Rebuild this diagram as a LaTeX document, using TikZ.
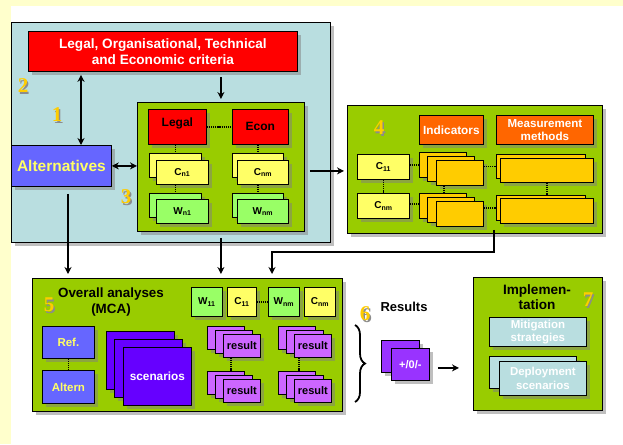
\documentclass[tikz,border=0pt]{standalone}
\usepackage{fontspec}
\setmainfont{Liberation Sans}
\newfontfamily\numfont{Liberation Serif}
\usetikzlibrary{shadows,arrows.meta,decorations.pathreplacing,calc}

\definecolor{pageyellow}{HTML}{FFFFCC}
\definecolor{paleblue}{HTML}{B9DEE0}
\definecolor{critred}{HTML}{FF0000}
\definecolor{panelgreen}{HTML}{99CC00}
\definecolor{altblue}{HTML}{6666FF}
\definecolor{cyellow}{HTML}{FFFF66}
\definecolor{wgreen}{HTML}{99FF66}
\definecolor{indorange}{HTML}{FF6600}
\definecolor{indgold}{HTML}{FFCC00}
\definecolor{scenviolet}{HTML}{6600FF}
\definecolor{reslilac}{HTML}{CC66FF}
\definecolor{pmpurple}{HTML}{9933FF}
\definecolor{numgold}{HTML}{FFCC00}

\tikzset{
  box/.style={draw=black, line width=0.8pt, inner sep=0pt, anchor=north west,
    align=center, font=\bfseries,
    drop shadow={shadow xshift=3.5pt, shadow yshift=-3.5pt, opacity=0.5}},
  panel/.style={box, fill=panelgreen},
  arr/.style={line width=1.8pt, -{Stealth[length=7pt,width=7pt]}},
  dblarr/.style={line width=1.8pt, {Stealth[length=7pt,width=7pt]}-{Stealth[length=7pt,width=7pt]}},
  dots/.style={line width=1.4pt, dash pattern=on 1.2pt off 0.9pt},
  numtxt/.style={font=\numfont\bfseries\fontsize{21}{21}\selectfont, inner sep=0pt},
  num/.style={numtxt, text=numgold},
  numshadow/.style={numtxt, text=black!45},
  cbox/.style={box, fill=cyellow, font=\bfseries\fontsize{10}{11}\selectfont},
  wbox/.style={box, fill=wgreen, font=\bfseries\fontsize{10}{11}\selectfont},
}
\newcommand{\sbs}[1]{\textsubscript{\fontsize{7}{7}\selectfont #1}}
% gold step number with a grey shadow copy behind it
\newcommand{\stepnum}[3]{%
  \node[numshadow] (#1s) at (#2+1.5,#3+1.5) {#1};%
  \node[num] (n#1) at (#2,#3) {#1};}

\begin{document}
\begin{tikzpicture}[x=1pt, y=-1pt]
% page background
\fill[pageyellow] (0,0) rectangle (623,444);
\fill[white] (11,6) rectangle (623,444);
\useasboundingbox (0,0) rectangle (623,444);

% ---- block 1-3: criteria and alternatives ----
\node[box, fill=paleblue, minimum width=319pt, minimum height=220pt] (outer) at (11,22) {};
\node[box, fill=critred, text=white, minimum width=269pt, minimum height=40pt,
  font=\bfseries\fontsize{13.6}{15.5}\selectfont] (crit) at (28,31)
  {Legal, Organisational, Technical\\and Economic criteria};
\node[box, fill=altblue, text=cyellow, minimum width=100pt, minimum height=41pt,
  font=\bfseries\fontsize{15.5}{17}\selectfont] (alt) at (11,145) {Alternatives};
\stepnum{2}{23}{86}
\stepnum{1}{57}{115}

\node[panel, minimum width=167pt, minimum height=129pt] (box3) at (137,102) {};
\node[box, fill=critred, minimum width=58pt, minimum height=35pt, text depth=9pt,
  font=\bfseries\fontsize{12}{14}\selectfont] (legal) at (148,109) {Legal};
\node[box, fill=critred, minimum width=56pt, minimum height=35pt,
  font=\bfseries\fontsize{12}{14}\selectfont] (econ) at (232,109) {Econ};
\node[cbox, minimum width=52pt, minimum height=24pt] (cn1a) at (149,153) {};
\node[cbox, minimum width=52pt, minimum height=24pt] (cn1b) at (156,160) {C\sbs{n1}};
\node[cbox, minimum width=51pt, minimum height=24pt] (cnma) at (232,153) {};
\node[cbox, minimum width=51pt, minimum height=24pt] (cnmb) at (237,160) {C\sbs{nm}};
\node[wbox, minimum width=52pt, minimum height=24pt] (wn1a) at (149,193) {};
\node[wbox, minimum width=52pt, minimum height=24pt] (wn1b) at (156,199) {W\sbs{n1}};
\node[wbox, minimum width=51pt, minimum height=24pt] (wnma) at (232,193) {};
\node[wbox, minimum width=51pt, minimum height=24pt] (wnmb) at (237,199) {W\sbs{nm}};
\stepnum{3}{126}{197}

\draw[dots] (legal.east |- econ.west) -- (econ.west);
\draw[dots] (legal.south -| cn1a.north) -- (cn1a.north);
\draw[dots] (cn1b.south -| wn1a.north) -- (wn1a.north);
\draw[dots] (econ.south -| cnma.north) -- (cnma.north);
\draw[dots] (cnmb.south -| wnma.north) -- (wnma.north);

\draw[dblarr] ([xshift=53pt,yshift=-3pt]crit.south west) -- ([xshift=70pt]alt.north west);
\draw[arr] ([yshift=-5pt]crit.south -| box3.north) -- ([yshift=3pt]box3.north);
\draw[dblarr] (alt.east) -- (alt.east -| box3.west);

% ---- block 4: indicators and measurement methods ----
\node[panel, minimum width=255pt, minimum height=128pt] (box4) at (347,105) {};
\stepnum{4}{379}{128}
\node[box, fill=indorange, text=white, minimum width=64pt, minimum height=29pt,
  font=\bfseries\fontsize{11.8}{13.5}\selectfont] (indic) at (419,115) {Indicators};
\node[box, fill=indorange, text=white, minimum width=97pt, minimum height=29pt,
  font=\bfseries\fontsize{11.6}{13}\selectfont] (meas) at (496,115) {Measurement\\methods};
\node[cbox, minimum width=52pt, minimum height=25pt] (c4a) at (357,154) {C\sbs{11}};
\node[cbox, minimum width=52pt, minimum height=25pt] (c4b) at (357,193) {C\sbs{nm}};
\node[box, fill=indgold, minimum width=47pt, minimum height=25pt] (ia1) at (419,152) {};
\node[box, fill=indgold, minimum width=47pt, minimum height=25pt] (ia2) at (427,156) {};
\node[box, fill=indgold, minimum width=47pt, minimum height=25pt] (ia3) at (436,160) {};
\node[box, fill=indgold, minimum width=47pt, minimum height=25pt] (ib1) at (419,193) {};
\node[box, fill=indgold, minimum width=47pt, minimum height=25pt] (ib2) at (427,197) {};
\node[box, fill=indgold, minimum width=47pt, minimum height=25pt] (ib3) at (436,201) {};
\node[box, fill=indgold, minimum width=89pt, minimum height=24pt] (ma1) at (496,154) {};
\node[box, fill=indgold, minimum width=93pt, minimum height=24pt] (ma2) at (500,158) {};
\node[box, fill=indgold, minimum width=89pt, minimum height=25pt] (mb1) at (496,195) {};
\node[box, fill=indgold, minimum width=93pt, minimum height=25pt] (mb2) at (500,198) {};

\draw[dots] ([yshift=2pt]c4a.east) -- ([yshift=2pt]c4a.east -| ia1.west);
\draw[dots] ([yshift=2pt]c4b.east) -- ([yshift=2pt]c4b.east -| ib1.west);
\draw[dots] (ia3.east |- ma1.west) -- (ma1.west);
\draw[dots] (ib3.east |- mb1.west) -- (mb1.west);
\draw[dots] (c4a.south) -- (c4b.north);
\draw[dots] ([xshift=8pt]ia3.south west) -- ([xshift=25pt]ib1.north west);
\draw[dots] (ma2.south) -- (ma2.south |- mb1.north);

\draw[arr] ($(box3.east |- box4.west)+(5,1.5)$) -- ($(box4.west)+(-3,1.5)$);

% ---- block 5: overall analyses ----
\node[panel, minimum width=310pt, minimum height=133pt] (box5) at (32,278) {};
\stepnum{5}{49}{305}
\node[font=\bfseries\fontsize{13.4}{16}\selectfont, align=center, inner sep=0pt] (mca) at (111,302)
  {Overall analyses\\(MCA)};
\node[wbox, minimum width=31pt, minimum height=29pt] (w11) at (191,287) {W\sbs{11}};
\node[cbox, minimum width=29pt, minimum height=29pt] (c11) at (227,287) {C\sbs{11}};
\node[wbox, minimum width=31pt, minimum height=29pt] (wnm) at (268,287) {W\sbs{nm}};
\node[cbox, minimum width=31pt, minimum height=29pt] (cnm) at (304,287) {C\sbs{nm}};
\draw[dots] (c11.east) -- (wnm.west);

\node[box, fill=altblue, text=cyellow, minimum width=52pt, minimum height=32pt,
  font=\bfseries\fontsize{11.5}{13}\selectfont] (ref) at (42,326) {Ref.};
\node[box, fill=altblue, text=cyellow, minimum width=52pt, minimum height=33pt,
  font=\bfseries\fontsize{11.5}{13}\selectfont] (altern) at (42,370) {Altern};
\draw[dots] (ref.south) -- (altern.north);

\node[box, fill=scenviolet, minimum width=68pt, minimum height=58pt] (sc1) at (106,331) {};
\node[box, fill=scenviolet, minimum width=68pt, minimum height=58pt] (sc2) at (114,339) {};
\node[box, fill=scenviolet, text=white, minimum width=68pt, minimum height=58pt,
  font=\bfseries\fontsize{11.8}{13}\selectfont] (sc3) at (123,347) {scenarios};

\foreach \gx/\g in {207/p, 278/q}{
  \foreach \gy/\r in {326/1, 371/2}{
    \node[box, fill=reslilac, minimum width=37pt, minimum height=23pt] (\g\r a) at (\gx,\gy) {};
    \node[box, fill=reslilac, minimum width=37pt, minimum height=23pt] (\g\r b) at (\gx+8,\gy+4) {};
    \node[box, fill=reslilac, minimum width=37pt, minimum height=23pt,
      font=\bfseries\fontsize{11}{12}\selectfont] (\g\r c) at (\gx+16,\gy+8) {result};
  }
}
\draw[dots] ([xshift=8pt]p1c.south west) -- ([xshift=24pt]p2a.north west);
\draw[dots] ([xshift=5pt]q1c.south west) -- ([xshift=21pt]q2a.north west);

\coordinate (elbow) at (272,252);
\draw[arr] ([xshift=57pt,yshift=-7pt]alt.south west) -- ([xshift=57pt,yshift=4pt]alt.south west |- box5.north);
\draw[arr] ([yshift=-6pt]box3.south) -- ([yshift=4pt]box3.south |- box5.north);
\draw[arr] ([xshift=147pt,yshift=4pt]box4.south west) |- (elbow) -- ([yshift=4pt]elbow |- box5.north);

% ---- block 6: results ----
\draw[line width=1.8pt, decorate, decoration={brace, amplitude=10pt}] (355,325) -- (355,402);
\stepnum{6}{365}{314}
\node[font=\bfseries\fontsize{13}{15}\selectfont, inner sep=0pt] (restitle) at (404,307) {Results};
\node[box, fill=pmpurple, minimum width=38pt, minimum height=32pt] (pm1) at (381,340) {};
\node[box, fill=pmpurple, text=white, minimum width=38pt, minimum height=32pt,
  font=\bfseries\fontsize{11}{12}\selectfont] (pm2) at (391,348) {+/0/-};

% ---- block 7: implementation ----
\node[panel, minimum width=129pt, minimum height=133pt] (box7) at (473,277) {};
\node[font=\bfseries\fontsize{13.6}{15.5}\selectfont, align=center, inner sep=0pt] (impl) at (537,297)
  {Implemen-\\tation};
\stepnum{7}{588}{300}
\node[box, fill=paleblue, text=white, minimum width=97pt, minimum height=29pt,
  font=\bfseries\fontsize{11.5}{13}\selectfont] (mitig) at (489,317) {Mitigation\\strategies};
\node[box, fill=paleblue, minimum width=87pt, minimum height=32pt] (dep1) at (489,356) {};
\node[box, fill=paleblue, text=white, minimum width=87pt, minimum height=34pt,
  font=\bfseries\fontsize{11.5}{13.5}\selectfont] (dep2) at (499,361) {Deployment\\scenarios};

\draw[arr] ($(pm2.east)+(8,3.5)$) -- ($(pm2.east -| box7.west)+(-14,3.5)$);
\end{tikzpicture}
\end{document}
